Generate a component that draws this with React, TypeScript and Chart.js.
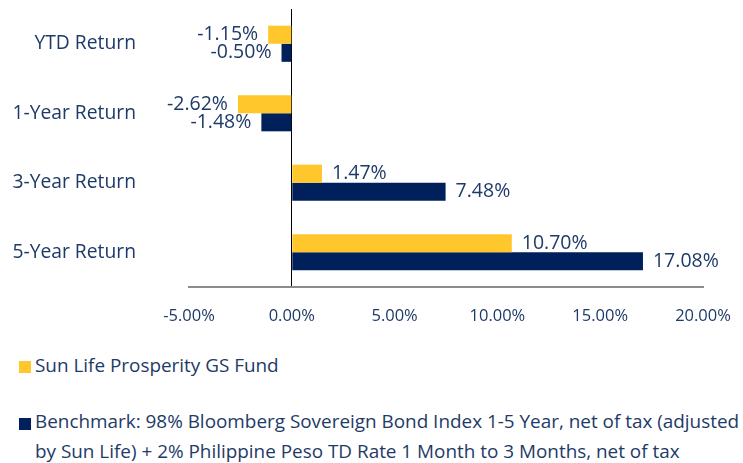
import React, { useEffect, useRef } from "react";
import { Chart, registerables } from "chart.js";

Chart.register(...registerables);

const categories = ["YTD Return", "1-Year Return", "3-Year Return", "5-Year Return"];
const fundValues = [-1.15, -2.62, 1.47, 10.7];
const benchmarkValues = [-0.5, -1.48, 7.48, 17.08];
const seriesNames = [
  "Sun Life Prosperity GS Fund",
  "Benchmark: 98% Bloomberg Sovereign Bond Index 1-5 Year, net of tax (adjusted\nby Sun Life) + 2% Philippine Peso TD Rate 1 Month to 3 Months, net of tax",
];
const xMin = -5;
const xMax = 20;
const xStep = 5;

const FONT = "'Open Sans', sans-serif";
const TEXT = "#1e3a68";
const YELLOW = "#FFC72C";
const NAVY = "#00205B";

const labelPlugin = {
  id: "barLabels",
  afterDatasetsDraw(chart: any) {
    const ctx = chart.ctx;
    ctx.save();
    ctx.font = `19.5px ${FONT}`;
    ctx.fillStyle = TEXT;
    ctx.textBaseline = "middle";
    chart.data.datasets.forEach((ds: any, di: number) => {
      const meta = chart.getDatasetMeta(di);
      meta.data.forEach((el: any, i: number) => {
        const v = ds.data[i] as number;
        const txt = v.toFixed(2) + "%";
        if (v >= 0) {
          ctx.textAlign = "left";
          ctx.fillText(txt, el.x + 10, el.y);
        } else {
          ctx.textAlign = "right";
          ctx.fillText(txt, el.x - 10, el.y);
        }
      });
    });
    ctx.restore();
  },
};

export default function App() {
  const ref = useRef<HTMLCanvasElement>(null);
  useEffect(() => {
    document.body.style.margin = "0";
    const chart = new Chart(ref.current!, {
      type: "bar",
      data: {
        labels: categories,
        datasets: [
          { label: seriesNames[0], data: fundValues, backgroundColor: YELLOW },
          { label: seriesNames[1], data: benchmarkValues, backgroundColor: NAVY },
        ],
      },
      options: {
        indexAxis: "y",
        responsive: true,
        maintainAspectRatio: false,
        animation: false,
        layout: { autoPadding: false, padding: { top: 9, right: 40, left: 0, bottom: 0 } },
        datasets: { bar: { categoryPercentage: 0.52, barPercentage: 1 } } as any,
        plugins: { legend: { display: false }, tooltip: { enabled: false } },
        scales: {
          x: {
            min: xMin,
            max: xMax,
            ticks: {
              stepSize: xStep,
              callback: (v: any) => Number(v).toFixed(2) + "%",
              font: { family: FONT, size: 16.5 },
              color: TEXT,
              padding: 19,
              maxRotation: 0,
            },
            grid: {
              drawTicks: false,
              color: (c: any) => (Math.abs(c.tick?.value ?? 1) < 1e-9 ? "#000000" : "rgba(0,0,0,0)"),
              lineWidth: 1,
            },
            border: { display: true, color: "#8c8c8c", width: 2 },
            afterFit: (s: any) => {
              s.height = 53;
              s.paddingLeft = 0;
              s.paddingRight = 0;
            },
          },
          y: {
            ticks: { font: { family: FONT, size: 19.3 }, color: TEXT, padding: 53 },
            grid: { display: false, drawTicks: false },
            border: { display: false },
            afterFit: (s: any) => {
              s.width = 189;
              s.paddingTop = 0;
              s.paddingBottom = 0;
            },
          },
        },
      } as any,
      plugins: [labelPlugin],
    });
    return () => chart.destroy();
  }, []);

  const legendColors = [YELLOW, NAVY];
  const legendTops = [350, 406];
  const squareTops = [361, 418];

  return (
    <div style={{ position: "fixed", left: 0, top: 0, width: 743, height: 463, background: "#fff", overflow: "hidden" }}>
      <div style={{ position: "absolute", left: 0, top: 0, width: 743, height: 340 }}>
        <canvas ref={ref} />
      </div>
      {seriesNames.map((name, i) => (
        <React.Fragment key={i}>
          <div
            style={{
              position: "absolute",
              left: 19,
              top: squareTops[i],
              width: 12,
              height: 12,
              background: legendColors[i],
            }}
          />
          <div
            style={{
              position: "absolute",
              left: 35,
              top: legendTops[i],
              fontFamily: FONT,
              fontSize: 18.9,
              lineHeight: "30px",
              color: TEXT,
              whiteSpace: "pre",
            }}
          >
            {name}
          </div>
        </React.Fragment>
      ))}
    </div>
  );
}
